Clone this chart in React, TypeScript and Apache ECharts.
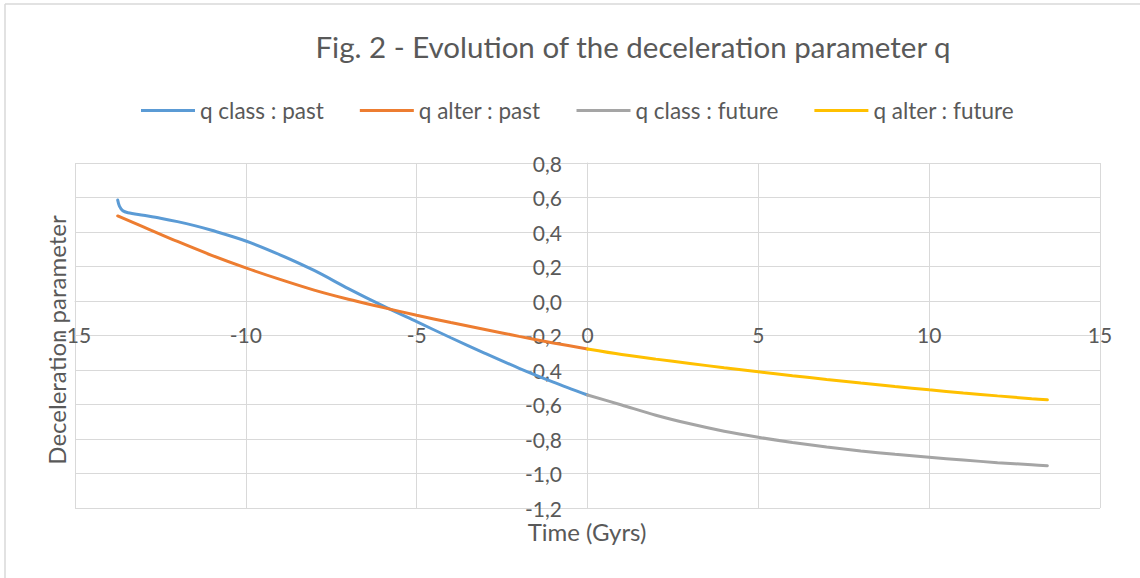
import React, { useEffect, useRef } from "react";
import * as echarts from "echarts";

// Time in Gyrs and deceleration parameter q
const classPastT = [-13.75, -13.7, -13.6, -13.45, -13, -12.5, -12, -11.5, -11, -10, -9, -8, -7, -6, -5, -4, -3, -2, -1, 0];
const classPastQ = [0.585, 0.55, 0.523, 0.512, 0.497, 0.48, 0.46, 0.437, 0.41, 0.348, 0.268, 0.177, 0.072, -0.027, -0.12, -0.213, -0.303, -0.39, -0.47, -0.545];

const alterPastT = [-13.75, -13, -12, -11, -10, -9, -8, -7, -6, -5, -4, -3, -2, -1, 0];
const alterPastQ = [0.493, 0.43, 0.345, 0.265, 0.192, 0.125, 0.063, 0.01, -0.037, -0.083, -0.125, -0.165, -0.205, -0.243, -0.278];

const classFutureT = [0, 1, 2, 3, 4, 5, 6, 7, 8, 9, 10, 11, 12, 13, 13.46];
const classFutureQ = [-0.545, -0.603, -0.662, -0.712, -0.755, -0.79, -0.82, -0.846, -0.869, -0.889, -0.906, -0.922, -0.937, -0.949, -0.955];

const alterFutureT = [0, 1, 2, 3, 4, 5, 6, 7, 8, 9, 10, 11, 12, 13, 13.46];
const alterFutureQ = [-0.278, -0.31, -0.337, -0.362, -0.387, -0.41, -0.433, -0.455, -0.476, -0.496, -0.515, -0.533, -0.55, -0.566, -0.573];

const seriesNames = ["q class : past", "q alter : past", "q class : future", "q alter : future"];
const seriesColors = ["#5B9BD5", "#ED7D31", "#A5A5A5", "#FFC000"];

const titleText = "Fig. 2 - Evolution of the deceleration parameter q";
const xTitle = "Time (Gyrs)";
const yTitle = "Deceleration parameter";

const FONT = "Lato, 'Noto Sans', sans-serif";
const TXT = "#595959";
const GRID = "#D9D9D9";

const zip = (xs: number[], ys: number[]) => xs.map((x, i) => [x, ys[i]]);

export default function App() {
  const ref = useRef<HTMLDivElement>(null);
  useEffect(() => {
    if (!ref.current) return;
    const chart = echarts.init(ref.current, undefined, { renderer: "svg" });
    const datasets = [
      zip(classPastT, classPastQ),
      zip(alterPastT, alterPastQ),
      zip(classFutureT, classFutureQ),
      zip(alterFutureT, alterFutureQ),
    ];
    chart.setOption({
      animation: false,
      backgroundColor: "#ffffff",
      title: {
        text: titleText,
        left: 628,
        textAlign: "center",
        top: 26,
        textStyle: { fontFamily: FONT, fontSize: 29.5, fontWeight: "normal", color: TXT },
      },
      legend: {
        left: 136,
        top: 94,
        icon: "rect",
        itemWidth: 54,
        itemHeight: 3,
        itemGap: 36,
        data: seriesNames,
        textStyle: { fontFamily: FONT, fontSize: 22.5, color: TXT },
      },
      grid: { left: 75, right: 40, top: 163, bottom: 70, containLabel: false },
      xAxis: {
        type: "value",
        min: -15,
        max: 15,
        interval: 5,
        offset: -207,
        axisLine: { onZero: false, lineStyle: { color: GRID, width: 1 } },
        axisTick: { show: false },
        axisLabel: {
          margin: 23,
          showMinLabel: true,
          showMaxLabel: true,
          fontFamily: FONT,
          fontSize: 21,
          color: TXT,
        },
        splitLine: { show: true, lineStyle: { color: GRID, width: 1 } },
      },
      yAxis: {
        type: "value",
        min: -1.2,
        max: 0.8,
        interval: 0.2,
        offset: -512,
        axisLine: { show: true, onZero: false, lineStyle: { color: GRID, width: 1 } },
        axisTick: { show: false },
        axisLabel: {
          margin: 25,
          fontFamily: FONT,
          fontSize: 21,
          color: TXT,
          formatter: (v: number) => (Math.abs(v) < 1e-9 ? "0,0" : v.toFixed(1).replace(".", ",")),
        },
        splitLine: { show: true, lineStyle: { color: GRID, width: 1 } },
      },
      graphic: [
        { type: "line", shape: { x1: 5, y1: 4, x2: 1140, y2: 4 }, style: { stroke: GRID, lineWidth: 1.5 } },
        { type: "line", shape: { x1: 5, y1: 4, x2: 5, y2: 578 }, style: { stroke: GRID, lineWidth: 1.5 } },
        {
          type: "text",
          x: 587,
          y: 531,
          style: {
            text: xTitle,
            textAlign: "center",
            textVerticalAlign: "middle",
            align: "center",
            verticalAlign: "middle",
            fontFamily: FONT,
            fontSize: 24,
            fill: TXT,
          },
        },
        {
          type: "text",
          x: 56,
          y: 340,
          rotation: Math.PI / 2,
          style: {
            text: yTitle,
            textAlign: "center",
            textVerticalAlign: "middle",
            align: "center",
            verticalAlign: "middle",
            fontFamily: FONT,
            fontSize: 24,
            fill: TXT,
          },
        },
      ],
      series: datasets.map((d, i) => ({
        name: seriesNames[i],
        type: "line",
        data: d,
        symbol: "none",
        smooth: 0.3,
        lineStyle: { color: seriesColors[i], width: 3, cap: "round" },
        itemStyle: { color: seriesColors[i] },
      })),
    });
    return () => chart.dispose();
  }, []);
  return (
    <div
      ref={ref}
      style={{ position: "fixed", left: 0, top: 0, width: 1140, height: 578 }}
    />
  );
}
